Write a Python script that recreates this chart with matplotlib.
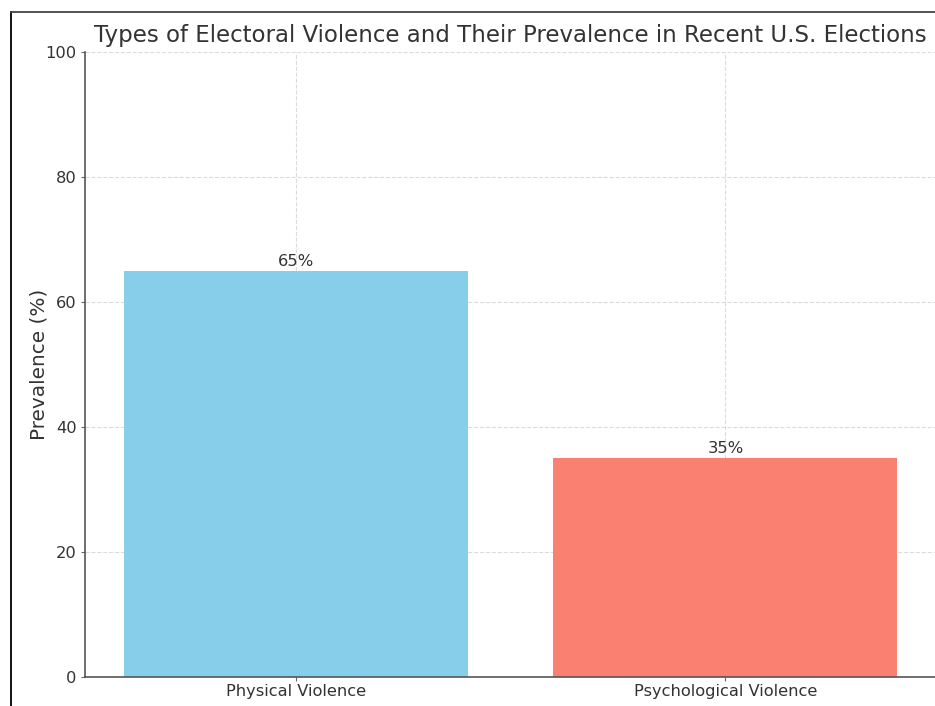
import matplotlib.pyplot as plt
from matplotlib.lines import Line2D

# data
categories = ['Physical Violence', 'Psychological Violence']
prevalence = [65, 35]
bar_colors = ['skyblue', 'salmon']

fig = plt.figure(figsize=(9.35, 7.06), dpi=100)
ax = fig.add_axes([85 / 935, 29 / 706, 851 / 935, 625 / 706])

bars = ax.bar(categories, prevalence, color=bar_colors, width=0.8)
for b, v in zip(bars, prevalence):
    ax.text(b.get_x() + b.get_width() / 2, b.get_height() + 0.3, f'{v}%',
            ha='center', va='bottom', fontsize=11.8, color='#333333')

ax.set_ylim(0, 100)
ax.set_title('Types of Electoral Violence and Their Prevalence in Recent U.S. Elections',
             fontsize=16.5, color='#333333', pad=7)
ax.set_ylabel('Prevalence (%)', fontsize=14.4, color='#333333', labelpad=-2)
ax.tick_params(axis='both', labelsize=11.7, colors='#666666', labelcolor='#333333',
               length=3, pad=3)
ax.tick_params(axis='x', pad=2)
ax.grid(True, linestyle='--', color='#cccccc', alpha=0.7)
ax.set_axisbelow(True)
for s in ['top', 'right']:
    ax.spines[s].set_visible(False)
for s in ['left', 'bottom']:
    ax.spines[s].set_color('#555555')
    ax.spines[s].set_linewidth(1.2)

# screenshot frame (cropped)
fig.add_artist(Line2D([10.5 / 935, 10.5 / 935], [0, 1 - 11.5 / 706], transform=fig.transFigure,
                      color='black', lw=1.3))
fig.add_artist(Line2D([10.5 / 935, 1], [1 - 11.5 / 706, 1 - 11.5 / 706], transform=fig.transFigure,
                      color='#444444', lw=1.3))

fig.savefig('out.png', dpi=100)
